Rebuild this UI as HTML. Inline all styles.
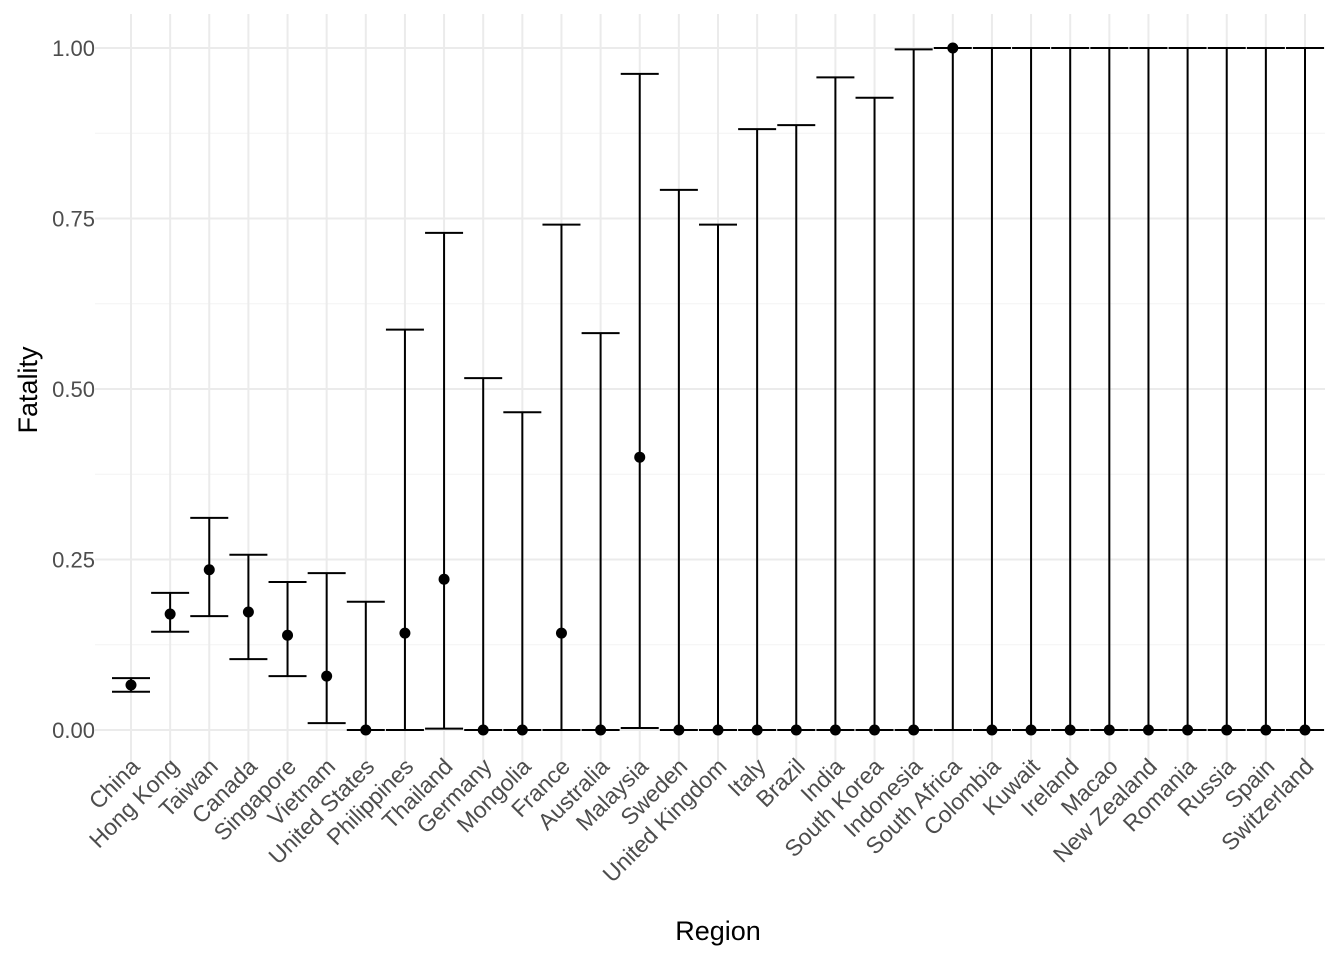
<!DOCTYPE html>
<html><head><meta charset="utf-8"><style>
body{margin:0;background:#fff;}
svg text{font-family:"Liberation Sans",Arial,sans-serif;}
</style></head><body>
<svg id="chart" width="1344" height="960" xmlns="http://www.w3.org/2000/svg">
<g id="grid"></g>
<g id="marks"></g>
<g id="axes"></g>
<text x="718" y="940" font-size="27" text-anchor="middle" fill="#000">Region</text>
<text transform="translate(37,390) rotate(-90)" font-size="27" text-anchor="middle" fill="#000">Fatality</text>
</svg>
<script>
const categories=["China","Hong Kong","Taiwan","Canada","Singapore","Vietnam","United States","Philippines","Thailand","Germany","Mongolia","France","Australia","Malaysia","Sweden","United Kingdom","Italy","Brazil","India","South Korea","Indonesia","South Africa","Colombia","Kuwait","Ireland","Macao","New Zealand","Romania","Russia","Spain","Switzerland"];
const estimates=[0.066,0.170,0.235,0.173,0.139,0.079,0,0.142,0.221,0,0,0.142,0,0.400,0,0,0,0,0,0,0,1.0,0,0,0,0,0,0,0,0,0];
const lower=[0.056,0.144,0.167,0.104,0.079,0.010,0,0,0.002,0,0,0,0,0.003,0,0,0,0,0,0,0,0,0,0,0,0,0,0,0,0,0];
const upper=[0.076,0.201,0.311,0.257,0.217,0.230,0.188,0.587,0.729,0.516,0.466,0.741,0.582,0.962,0.792,0.741,0.881,0.887,0.957,0.927,0.998,1.0,1,1,1,1,1,1,1,1,1];
const yTicks=[0,0.25,0.5,0.75,1.0];
const yTickLabels=["0.00","0.25","0.50","0.75","1.00"];
const yMinor=[0.125,0.375,0.625,0.875];

const NS="http://www.w3.org/2000/svg";
const n=categories.length;
const x0=131;
function xs(i){return x0+i*(1305-x0)/(n-1);}
function ys(v){return 730-v*682;}
function mk(tag,attrs,parent){const e=document.createElementNS(NS,tag);for(const k in attrs)e.setAttribute(k,attrs[k]);parent.appendChild(e);return e;}
const grid=document.getElementById('grid'),marks=document.getElementById('marks'),axes=document.getElementById('axes');
const L=95,R=1325,T=14,B=763;
yMinor.forEach(v=>{const l=mk('line',{x1:L,x2:R,y1:ys(v),y2:ys(v),stroke:'#f3f3f3','stroke-width':1},grid);

});
yTicks.forEach((v,i)=>{const l=mk('line',{x1:L,x2:R,y1:ys(v),y2:ys(v),stroke:'#ebebeb','stroke-width':2},grid);


const t=mk('text',{x:95,y:ys(v)+8,'font-size':22,'text-anchor':'end',fill:'#4d4d4d'},axes);t.textContent=yTickLabels[i];

});
categories.forEach((c,i)=>{const x=xs(i);
const g=mk('line',{x1:x,x2:x,y1:T,y2:B,stroke:'#ebebeb','stroke-width':2},grid);


const ax=x+10,ay=768;
const t=mk('text',{x:ax,y:ay,'font-size':23,'text-anchor':'end',fill:'#4d4d4d',transform:`rotate(-45 ${ax} ${ay})`},axes);t.textContent=c;


const eg=mk('g',{},marks);


const w=19;
mk('line',{x1:x,x2:x,y1:ys(lower[i]),y2:ys(upper[i]),stroke:'#000','stroke-width':2},eg);
mk('line',{x1:x-w,x2:x+w,y1:ys(lower[i]),y2:ys(lower[i]),stroke:'#000','stroke-width':2},eg);
mk('line',{x1:x-w,x2:x+w,y1:ys(upper[i]),y2:ys(upper[i]),stroke:'#000','stroke-width':2},eg);
const p=mk('circle',{cx:x,cy:ys(estimates[i]),r:5.5,fill:'#000'},marks);


});
</script>
</body></html>
